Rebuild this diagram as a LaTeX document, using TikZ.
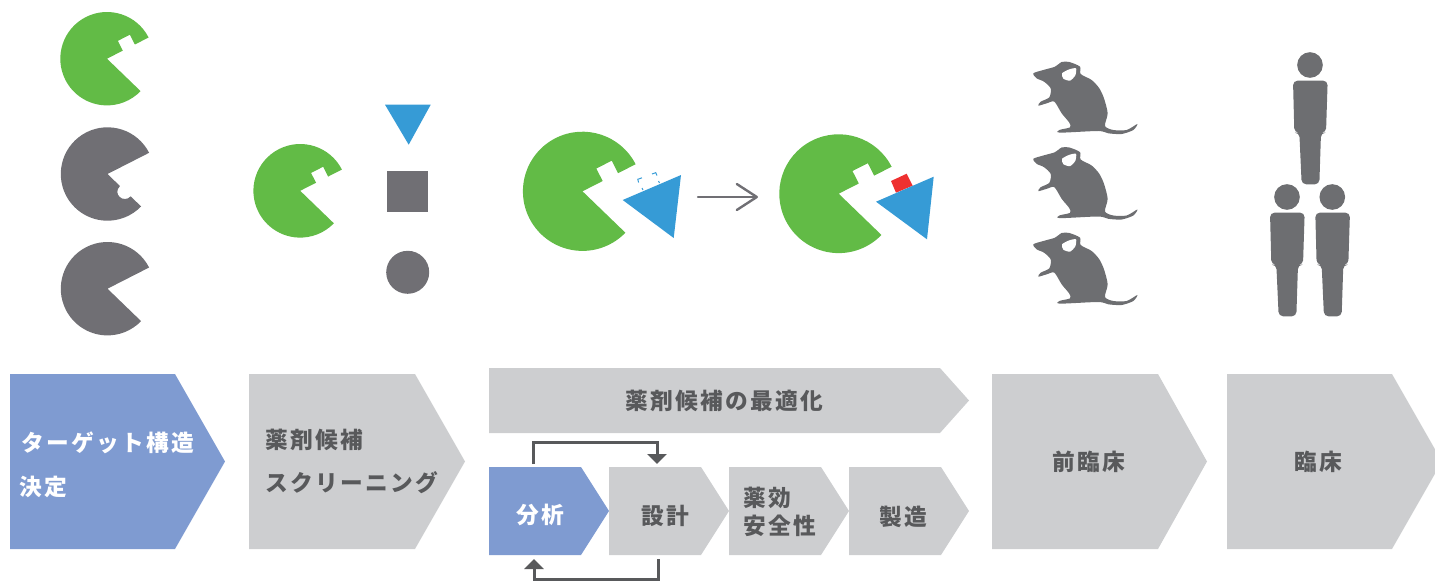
\documentclass[tikz,border=0pt]{standalone}
\usepackage{fontspec}
\usetikzlibrary{arrows.meta}
\newfontfamily\jpfont{Noto Sans CJK JP}[LetterSpace=10]

\definecolor{clrgreen}{HTML}{62BB46}
\definecolor{clrgray}{HTML}{6D6E71}
\definecolor{clrshape}{HTML}{706F74}
\definecolor{clrblue}{HTML}{369BD6}
\definecolor{clrred}{HTML}{EE3030}
\definecolor{clrchevblue}{HTML}{7F9BD1}
\definecolor{clrchevgray}{HTML}{CDCED0}
\definecolor{clrtext}{HTML}{58595B}

\tikzset{
	chevlabel/.style={text=clrtext,font=\jpfont\fontsize{22.7}{22.7}\selectfont\bfseries,inner sep=0pt},
	chevlabelw/.style={chevlabel,text=white},
	loopline/.style={draw=clrtext,line width=3pt,-{Triangle[length=10pt,width=19pt]}},
}

\begin{document}
\begin{tikzpicture}[x=1pt,y=1pt,yscale=-1]

\useasboundingbox (0,0) rectangle (1435,581);
\clip (0,0) rectangle (1435,581);

% \mypacman{x}{y}{r}{color}: open towards the right, square notch in the upper lip
\newcommand*{\mypacman}[4]{
	\fill [#4,shift={(#1,#2)},scale=#3] (0,0) -- (-27:0.38) -- ++(-117:0.235) -- ++(-27:0.29) -- ++(63:0.235) -- (-27:1) arc (-27:-316:1) -- cycle;
}
% \mypacmanplain{x}{y}{r}{color}
\newcommand*{\mypacmanplain}[4]{
	\fill [#4,shift={(#1,#2)},scale=#3] (0,0) -- (-27:1) arc (-27:-316:1) -- cycle;
}
% \mychevron{left}{top}{shoulder}{tip}{bottom}{color}
\newcommand*{\mychevron}[6]{
	\fill [#6] (#1,#2) -- (#3,#2) -- (#4,{0.5*(#2+#5)}) -- (#3,#5) -- (#1,#5) -- cycle;
}
% \mymouse{yoffset}
\newcommand*{\mymouse}[1]{
	\begin{scope}[shift={(1020,#1)},scale=0.3333]
		\fill [clrgray] plot [smooth cycle,tension=0.45] coordinates {(40,70) (70,60) (105,50) (125,36) (148,36) (180,50) (182,72) (215,90) (238,115) (252,145) (263,190) (255,228) (280,240) (320,240) (352,222) (340,240) (305,252) (265,250) (235,243) (120,248) (118,240) (150,232) (148,218) (125,190) (103,155) (80,160) (55,167) (62,155) (88,142) (92,115) (72,95) (50,85)};
		\fill [white] plot [smooth cycle,tension=0.4] coordinates {(126,70) (148,58) (168,55) (166,76) (150,92) (130,86)};
	\end{scope}
}
% \myperson{headx}{heady}
\newcommand*{\myperson}[2]{
	\begin{scope}[shift={(#1,#2)},scale=0.3333]
		\fill [clrgray] (0,0) circle (38.5);
		\fill [clrgray,rounded corners=4.5pt] (-51,47) -- (53,47) -- (48,203) -- (33,203) -- (28,358) -- (-25,358) -- (-32,203) -- (-47,203) -- cycle;
	\end{scope}
}

	% target column
	\mypacman{107}{58.7}{46.7}{clrgreen}
	\fill [clrshape,shift={(107.5,174)},scale=46.7] (0,0) -- (-27:1) arc (-27:-316:1) -- (44:0.69) .. controls +(134:0.22) and +(134:0.24) .. (44:0.37) -- cycle;
	\mypacmanplain{107.5}{288.7}{46.7}{clrshape}

	% screening column
	\mypacman{300.2}{190.8}{46.8}{clrgreen}
	\fill [clrblue] (385,104.7) -- (430.7,104.7) -- (408.7,144.7) -- cycle;
	\fill [clrshape] (387,171) rectangle (428,212);
	\fill [clrshape] (407.7,272.3) circle (21.5);

	% optimisation column
	\mypacman{582.5}{191.3}{59.6}{clrgreen}
	\fill [clrblue] (622.7,200) -- (681,175) -- (673.7,238) -- cycle;
	\draw [clrblue,line width=1pt] (638.6,182.5) -- (637.8,179.3) -- (642,177.8);
	\draw [clrblue,line width=1pt] (652,174) -- (655.7,172.7) -- (657,175.5);
	\draw [clrblue,line width=1pt] (642,188) -- (643,190);
	\draw [clrblue,line width=1pt] (658.5,181) -- (659.5,183);

	\coordinate (stepa) at (698,197);
	\coordinate (stepb) at (758,197);
	\draw [clrshape,line width=2.4pt,line cap=round,-{Straight Barb[length=20pt,width=26pt,round]}] (stepa) -- (stepb);

	\mypacman{838.7}{193.7}{59.4}{clrgreen}
	\fill [clrred] (891,181) -- (906.7,173.7) -- (912.7,185.7) -- (896,192.7) -- cycle;
	\fill [clrblue] (876,201.7) -- (933.7,176.7) -- (927,239.3) -- cycle;

	% preclinical and clinical columns
	\foreach \y in {50,135.5,221}{
		\mymouse{\y}
	}
	\myperson{1310}{65}
	\myperson{1287}{197}
	\myperson{1332.3}{197}

	% process bar
	\mychevron{10}{374}{175}{225}{549}{clrchevblue}
	\mychevron{249}{374}{415}{465}{549}{clrchevgray}
	\mychevron{489}{368}{940}{969}{433}{clrchevgray}
	\mychevron{489}{467}{581}{609}{555}{clrchevblue}
	\mychevron{609}{467}{701}{729}{555}{clrchevgray}
	\mychevron{729}{467}{821}{849}{555}{clrchevgray}
	\mychevron{849}{467}{941}{969}{555}{clrchevgray}
	\mychevron{992}{374}{1158}{1207}{549}{clrchevgray}
	\mychevron{1227}{374}{1392}{1442}{549}{clrchevgray}

	\node [chevlabelw,anchor=west] (target) at (21.5,443) {ターゲット構造};
	\node [chevlabelw,anchor=west] (decide) at (19.5,487) {決定};
	\node [chevlabel,anchor=west] (screena) at (265.5,440) {薬剤候補};
	\node [chevlabel,anchor=west] (screenb) at (265.5,483) {スクリーニング};
	\node [chevlabel] (optimize) at (724,401) {薬剤候補の最適化};
	\node [chevlabelw] (analysis) at (540,515) {分析};
	\node [chevlabel] (design) at (665,516) {設計};
	\node [chevlabel,anchor=west] (effecta) at (743.5,498) {薬効};
	\node [chevlabel,anchor=west] (effectb) at (743.5,526) {安全性};
	\node [chevlabel] (making) at (903,517) {製造};
	\node [chevlabel] (preclinical) at (1089,462) {前臨床};
	\node [chevlabel] (clinical) at (1318,462) {臨床};

	% feedback loop between analysis and design
	\coordinate (loopa) at (533,464);
	\coordinate (loopb) at (657,464);
	\coordinate (loopc) at (658,559);
	\coordinate (loopd) at (534,559);
	\draw [loopline] (loopa) -- ++(0,-21.5) -| (loopb);
	\draw [loopline] (loopc) -- ++(0,20.5) -| (loopd);

\end{tikzpicture}
\end{document}
